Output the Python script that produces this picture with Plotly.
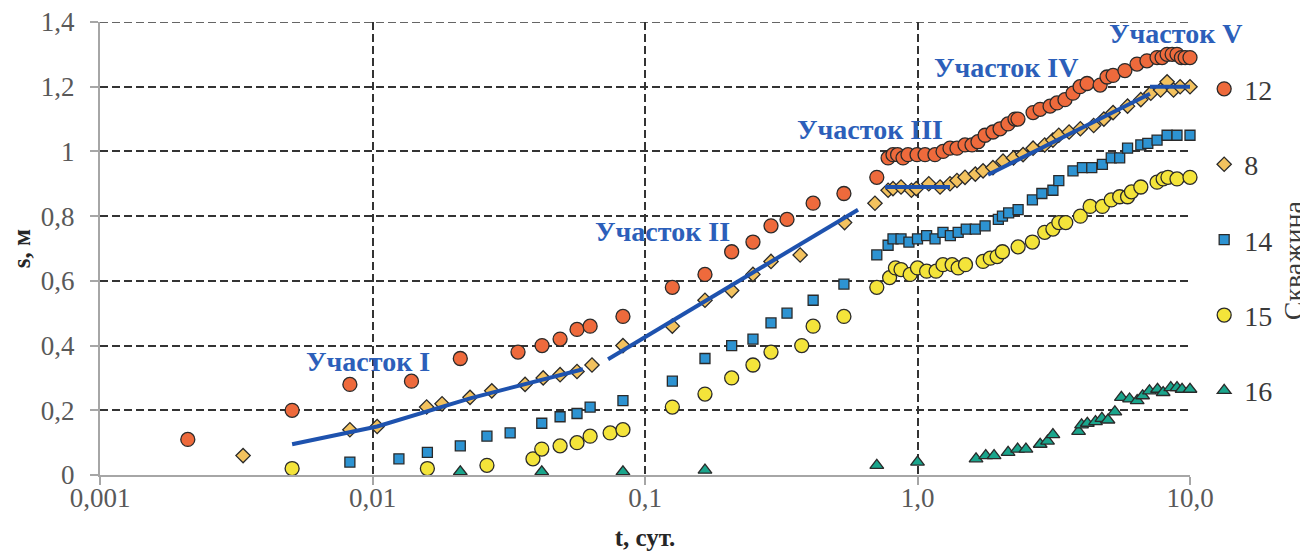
import plotly.graph_objects as go

# ---- data (t in days, s in m) ----
t12 = [0.0021, 0.00507, 0.00826, 0.0139, 0.021, 0.0342, 0.0419, 0.0488, 0.0563, 0.0629,
       0.083, 0.126, 0.166, 0.208, 0.249, 0.29, 0.332, 0.414, 0.537, 0.709,
       0.78, 0.813, 0.845, 0.885, 0.923, 0.996, 1.066, 1.159, 1.241, 1.316,
       1.396, 1.494, 1.585, 1.667, 1.77, 1.892, 2.009, 2.148, 2.279, 2.337,
       2.655, 2.818, 3.065, 3.251, 3.477, 3.72, 3.95, 4.19, 4.68, 4.96,
       5.22, 5.77, 6.39, 6.95, 7.57, 7.9, 8.24, 8.6, 8.96, 9.3, 9.6, 10.0]
s12 = [0.11, 0.20, 0.28, 0.29, 0.36, 0.38, 0.40, 0.42, 0.45, 0.46,
       0.49, 0.58, 0.62, 0.69, 0.72, 0.77, 0.79, 0.84, 0.87, 0.92,
       0.98, 0.99, 0.99, 0.98, 0.99, 0.99, 0.99, 0.99, 1.00, 1.01,
       1.01, 1.02, 1.02, 1.03, 1.05, 1.06, 1.07, 1.085, 1.10, 1.10,
       1.12, 1.13, 1.14, 1.15, 1.16, 1.18, 1.20, 1.21, 1.205, 1.23,
       1.235, 1.25, 1.27, 1.28, 1.29, 1.29, 1.30, 1.30, 1.30, 1.29, 1.29, 1.29]

t8 = [0.00335, 0.00826, 0.0104, 0.0158, 0.018, 0.0228, 0.0274, 0.0363, 0.0423, 0.0488,
      0.0563, 0.0639, 0.083, 0.126, 0.166, 0.208, 0.249, 0.29, 0.371, 0.54, 0.698,
      0.78, 0.813, 0.87, 0.95, 0.99, 1.10, 1.21, 1.316, 1.396, 1.494,
      1.63, 1.74, 1.892, 2.06, 2.25, 2.44, 2.655, 2.93, 3.14, 3.30,
      3.60, 3.96, 4.43, 4.83, 5.22, 5.9, 6.6, 7.18, 7.8, 8.24,
      8.7, 9.2, 10.0]
s8 = [0.06, 0.14, 0.15, 0.21, 0.22, 0.24, 0.26, 0.28, 0.30, 0.31,
      0.32, 0.34, 0.40, 0.46, 0.54, 0.57, 0.62, 0.66, 0.68, 0.78, 0.84,
      0.88, 0.885, 0.89, 0.88, 0.885, 0.90, 0.89, 0.90, 0.91, 0.92,
      0.93, 0.94, 0.95, 0.97, 0.98, 0.99, 1.01, 1.02, 1.035, 1.05,
      1.06, 1.07, 1.08, 1.10, 1.12, 1.14, 1.16, 1.18, 1.19, 1.215,
      1.19, 1.20, 1.20]

t14 = [0.00826, 0.0125, 0.0159, 0.021, 0.0263, 0.032, 0.0418, 0.0488, 0.0563, 0.0629,
       0.083, 0.126, 0.166, 0.208, 0.249, 0.29, 0.332, 0.414, 0.537, 0.709,
       0.78, 0.813, 0.87, 0.93, 1.0, 1.08, 1.16, 1.24, 1.32, 1.41,
       1.51, 1.63, 1.77, 1.98, 2.05, 2.16, 2.34, 2.64, 2.86, 3.14,
       3.3, 3.72, 4.03, 4.36, 4.77, 5.14, 5.52, 5.9, 6.6, 7.0,
       7.57, 8.24, 8.96, 10.0]
s14 = [0.04, 0.05, 0.07, 0.09, 0.12, 0.13, 0.16, 0.18, 0.19, 0.21,
       0.23, 0.29, 0.36, 0.40, 0.42, 0.47, 0.50, 0.54, 0.59, 0.68,
       0.71, 0.73, 0.73, 0.72, 0.73, 0.74, 0.73, 0.75, 0.74, 0.75,
       0.76, 0.76, 0.77, 0.79, 0.80, 0.81, 0.82, 0.85, 0.87, 0.88,
       0.91, 0.94, 0.95, 0.95, 0.96, 0.98, 0.98, 1.01, 1.02, 1.025,
       1.035, 1.05, 1.05, 1.05]

t15 = [0.00507, 0.0159, 0.0263, 0.0388, 0.0418, 0.0488, 0.0563, 0.0629, 0.0745, 0.083,
       0.126, 0.166, 0.208, 0.249, 0.29, 0.376, 0.414, 0.537, 0.709,
       0.79, 0.83, 0.87, 0.94, 1.0, 1.08, 1.17, 1.24, 1.34, 1.41,
       1.50, 1.74, 1.85, 1.96, 2.05, 2.34, 2.64, 2.93, 3.14, 3.3,
       3.5, 3.96, 4.3, 4.77, 5.14, 5.52, 5.9, 6.1, 6.6, 7.57,
       7.97, 8.3, 8.96, 10.0]
s15 = [0.02, 0.02, 0.03, 0.05, 0.08, 0.09, 0.10, 0.12, 0.13, 0.14,
       0.21, 0.25, 0.30, 0.34, 0.38, 0.40, 0.46, 0.49, 0.58,
       0.61, 0.64, 0.635, 0.62, 0.64, 0.63, 0.63, 0.65, 0.65, 0.64,
       0.65, 0.66, 0.67, 0.675, 0.69, 0.705, 0.72, 0.75, 0.76, 0.78,
       0.78, 0.80, 0.83, 0.83, 0.85, 0.86, 0.86, 0.875, 0.89, 0.905,
       0.915, 0.92, 0.915, 0.92]

t16 = [0.021, 0.0418, 0.083, 0.166, 0.709, 1.0, 1.64, 1.78, 1.91, 2.15,
       2.33, 2.5, 2.82, 3.0, 3.14, 3.9, 4.0, 4.2, 4.5, 4.75,
       5.0, 5.3, 5.6, 6.0, 6.4, 6.7, 7.1, 7.6, 7.97, 8.5,
       8.96, 9.35, 10.0]
s16 = [0.01, 0.01, 0.01, 0.015, 0.03, 0.04, 0.05, 0.06, 0.06, 0.07,
       0.08, 0.08, 0.095, 0.105, 0.125, 0.135, 0.155, 0.16, 0.165, 0.175,
       0.17, 0.195, 0.24, 0.235, 0.23, 0.245, 0.26, 0.265, 0.255, 0.27,
       0.27, 0.265, 0.265]

# trend segments (Участок I..V), fitted to well 8
seg_t = [[0.00507, 0.0104, 0.0228, 0.0592],
         [0.0732, 0.605],
         [0.76, 1.316],
         [1.815, 7.13],
         [7.13, 10.0]]
seg_s = [[0.095, 0.15, 0.237, 0.327],
         [0.358, 0.82],
         [0.89, 0.89],
         [0.928, 1.178],
         [1.20, 1.20]]
seg_labels = ["Участок I", "Участок II", "Участок III", "Участок IV", "Участок V"]

x_tickvals = [0.001, 0.01, 0.1, 1, 10]
x_ticktext = ["0,001", "0,01", "0,1", "1,0", "10,0"]
y_tickvals = [0, 0.2, 0.4, 0.6, 0.8, 1.0, 1.2, 1.4]
y_ticktext = ["0", "0,2", "0,4", "0,6", "0,8", "1", "1,2", "1,4"]
y_max = 1.4

series = [
    ("12", t12, s12, "circle", "#EE6A3C", 14),
    ("8", t8, s8, "diamond", "#F3C25E", 11),
    ("14", t14, s14, "square", "#2D93D2", 10),
    ("15", t15, s15, "circle", "#F4E43A", 14),
    ("16", t16, s16, "triangle-up", "#1AA58C", 12),
]

SERIF = "Liberation Serif, Times New Roman, serif"
GRID_COLOR = "#333333"
fig = go.Figure()
for name, tx, sy, sym, col, sz in series:
    fig.add_trace(go.Scatter(
        x=tx, y=sy, mode="markers", name=name, legendgroup=name,
        marker=dict(symbol=sym, color=col, size=sz, line=dict(color="#2a2a2a", width=1.3)),
        cliponaxis=False,
    ))

for st, ss in zip(seg_t, seg_s):
    fig.add_trace(go.Scatter(
        x=st, y=ss, mode="lines", showlegend=False,
        line=dict(color="#1E52AE", width=4), hoverinfo="skip",
    ))

label_pos = [(-2.0165, 0.352), (-0.9376, 0.752), (-0.174, 1.067), (0.3248, 1.258), (0.9486, 1.363)]
for txt, (lx, ly) in zip(seg_labels, label_pos):
    fig.add_annotation(x=lx, y=ly, xref="x", yref="y", text="<b>%s</b>" % txt,
                       showarrow=False, font=dict(family=SERIF, size=28, color="#2C5FBA"))

fig.add_annotation(x=1.0945, xref="paper", xanchor="center", y=0.474, yref="paper",
                   text="Скважина", showarrow=False, textangle=-90,
                   font=dict(family=SERIF, size=28, color="#3a3a3a"))

# top border gridline (1,4) drawn explicitly
fig.add_shape(type="line", xref="paper", x0=0, x1=1, yref="y", y0=y_max, y1=y_max,
              line=dict(color=GRID_COLOR, width=1.6, dash="8px,4px"), layer="below")

grid = dict(showgrid=True, gridcolor=GRID_COLOR, gridwidth=1.6, griddash="8px,4px",
            showline=True, linecolor="#A6A6A6", linewidth=2,
            ticks="outside", ticklen=8, tickcolor="#A6A6A6", tickwidth=1.5,
            zeroline=False, automargin=False, ticklabeloverflow="allow",
            tickfont=dict(family=SERIF, size=27, color="#595959"))

fig.update_xaxes(type="log", range=[-3, 1], tickvals=x_tickvals, ticktext=x_ticktext,
                 ticklabelstandoff=-10,
                 title=dict(text="<b>t, сут.</b>", font=dict(family=SERIF, size=25, color="#262626"), standoff=16),
                 **grid)
fig.update_yaxes(range=[0, y_max], tickvals=y_tickvals, ticktext=y_ticktext, ticklabelstandoff=10,
                 title=dict(text="<b>s, м</b>", font=dict(family=SERIF, size=25, color="#262626"), standoff=14),
                 **grid)

fig.update_layout(
    width=1308, height=552,
    margin=dict(l=92, r=126, t=14, b=85),
    paper_bgcolor="white", plot_bgcolor="white",
    showlegend=True,
    legend=dict(x=1.013, xanchor="left", y=0.907, yanchor="top",
                font=dict(family=SERIF, size=28, color="#3a3a3a"),
                tracegroupgap=36, itemwidth=30, bgcolor="rgba(0,0,0,0)"),
)

fig.write_html("out.html")
